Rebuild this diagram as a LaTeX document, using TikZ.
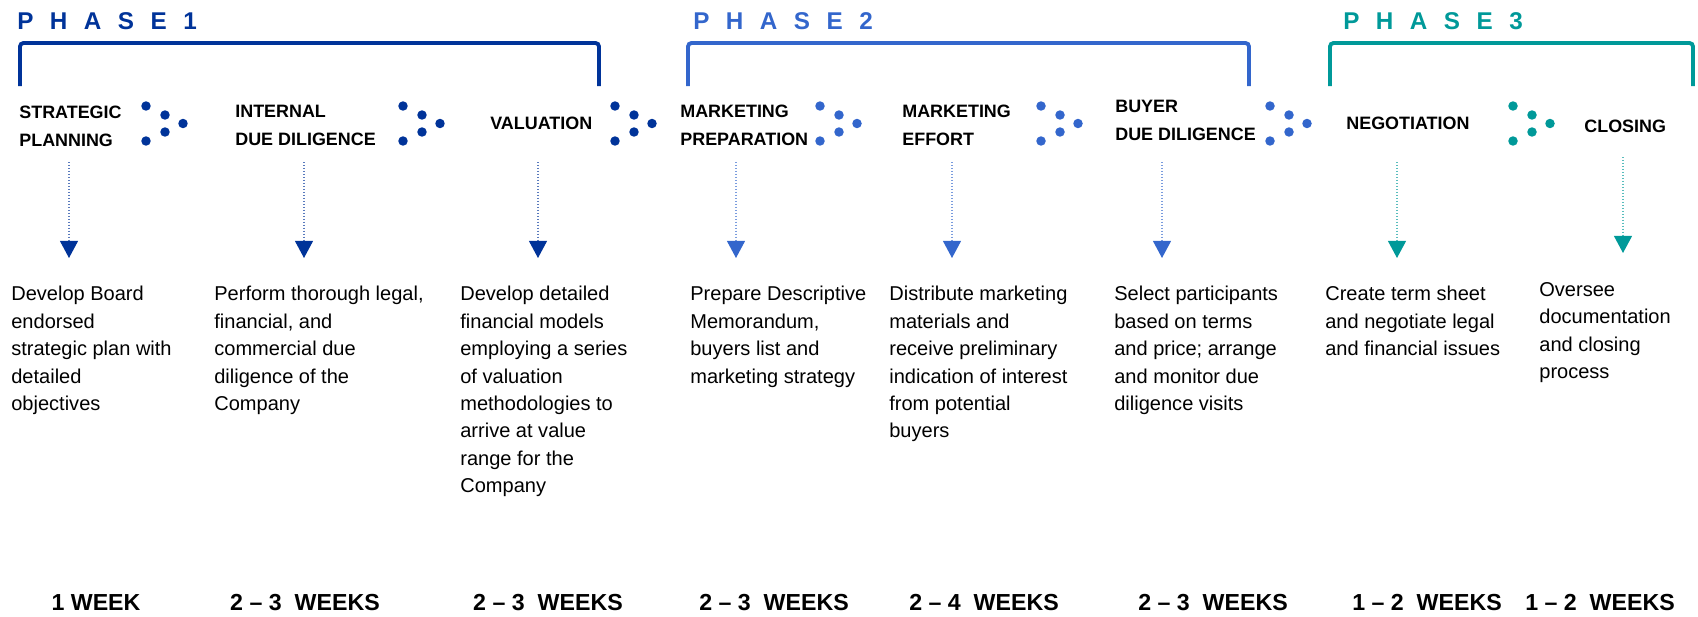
\documentclass[tikz,border=0pt]{standalone}
\usepackage{fontspec}
\setmainfont{Liberation Sans}
\usepackage{tikz}
\usetikzlibrary{arrows.meta}

\definecolor{pone}{HTML}{003399}
\definecolor{ptwo}{HTML}{3366CC}
\definecolor{pthree}{HTML}{009999}

\newcommand\lsp{\hspace{.68em}}

\tikzset{
  phasetitle/.style={font=\fontsize{13.8}{15}\selectfont\bfseries, text=#1, inner sep=0pt, anchor=west},
  phaseline/.style={draw=#1, line width=2.2pt, rounded corners=2pt},
  stage/.style={font=\fontsize{10.2}{15.9}\selectfont\bfseries, align=left, inner sep=0pt, anchor=north west},
  stageone/.style={font=\fontsize{10.2}{15.9}\selectfont\bfseries, inner sep=0pt, anchor=west},
  note/.style={font=\fontsize{11.4}{15.6}\selectfont, align=left, inner sep=0pt, anchor=north west},
  weeks/.style={font=\fontsize{13.2}{15}\selectfont\bfseries, inner sep=0pt},
  flow/.style={draw=#1!65, densely dotted, line width=0.7pt, -{Triangle[length=9.7pt,width=10.2pt,color=#1]}}
}

\begin{document}
\begin{tikzpicture}[x=0.02cm,y=-0.02cm]
    \useasboundingbox (0,0) rectangle (1698,616);

    % phases
    \node[phasetitle=pone] (ph1) at (17,21) {P\lsp H\lsp A\lsp S\lsp E\lsp 1};
    \node[phasetitle=ptwo] (ph2) at (693,21) {P\lsp H\lsp A\lsp S\lsp E\lsp 2};
    \node[phasetitle=pthree] (ph3) at (1343,21) {P\lsp H\lsp A\lsp S\lsp E\lsp 3};
    \draw[phaseline=pone] (20,86) |- (599,43) -- (599,86);
    \draw[phaseline=ptwo] (688,86) |- (1249,43) -- (1249,86);
    \draw[phaseline=pthree] (1330,86) |- (1693,43) -- (1693,86);

    % stages
    \node[stage] (s1) at (19,106) {STRATEGIC\\PLANNING};
    \node[stage] (s2) at (235,105) {INTERNAL\\DUE DILIGENCE};
    \node[stageone] (s3) at (490,123.5) {VALUATION};
    \node[stage] (s4) at (680,105) {MARKETING\\PREPARATION};
    \node[stage] (s5) at (902,105) {MARKETING\\EFFORT};
    \node[stage] (s6) at (1115,100) {BUYER\\DUE DILIGENCE};
    \node[stageone] (s7) at (1346,123.5) {NEGOTIATION};
    \node[stageone] (s8) at (1584,126.5) {CLOSING};

    \foreach \x/\c in {146/pone,403/pone,615/pone,820/ptwo,1041/ptwo,1270/ptwo,1513/pthree}
      \foreach \dx/\dy in {0/0,19/9,37/17.5,19/26,0/35}
        \fill[\c] (\x+\dx,106+\dy) circle[radius=2.7pt];

    % arrows
    \foreach \x/\c/\t [count=\i] in {69/pone/162,304/pone/162,538/pone/162,736/ptwo/162,
        952/ptwo/162,1162/ptwo/162,1397/pthree/162,1623/pthree/157}{
      \coordinate (top\i) at (\x,\t);
      \coordinate (tip\i) at (\x,\t+96);
      \draw[flow=\c] (top\i) -- (tip\i);
    }

    % descriptions
    \node[note] (n1) at (11,286) {Develop Board\\endorsed\\strategic plan with\\detailed\\objectives};
    \node[note] (n2) at (214,286) {Perform thorough legal,\\financial, and\\commercial due\\diligence of the\\Company};
    \node[note] (n3) at (460,286) {Develop detailed\\financial models\\employing a series\\of valuation\\methodologies to\\arrive at value\\range for the\\Company};
    \node[note] (n4) at (690,286) {Prepare Descriptive\\Memorandum,\\buyers list and\\marketing strategy};
    \node[note] (n5) at (889,286) {Distribute marketing\\materials and\\receive preliminary\\indication of interest\\from potential\\buyers};
    \node[note] (n6) at (1114,286) {Select participants\\based on terms\\and price; arrange\\and monitor due\\diligence visits};
    \node[note] (n7) at (1325,286) {Create term sheet\\and negotiate legal\\and financial issues};
    \node[note] (n8) at (1539,282) {Oversee\\documentation\\and closing\\process};

    % durations
    \node[weeks] (w1) at (96,603) {1 WEEK};
    \node[weeks] (w2) at (305,603) {2 -- 3\ \ WEEKS};
    \node[weeks] (w3) at (548,603) {2 -- 3\ \ WEEKS};
    \node[weeks] (w4) at (774,603) {2 -- 3\ \ WEEKS};
    \node[weeks] (w5) at (984,603) {2 -- 4\ \ WEEKS};
    \node[weeks] (w6) at (1213,603) {2 -- 3\ \ WEEKS};
    \node[weeks] (w7) at (1427,603) {1 -- 2\ \ WEEKS};
    \node[weeks] (w8) at (1600,603) {1 -- 2\ \ WEEKS};
\end{tikzpicture}
\end{document}
